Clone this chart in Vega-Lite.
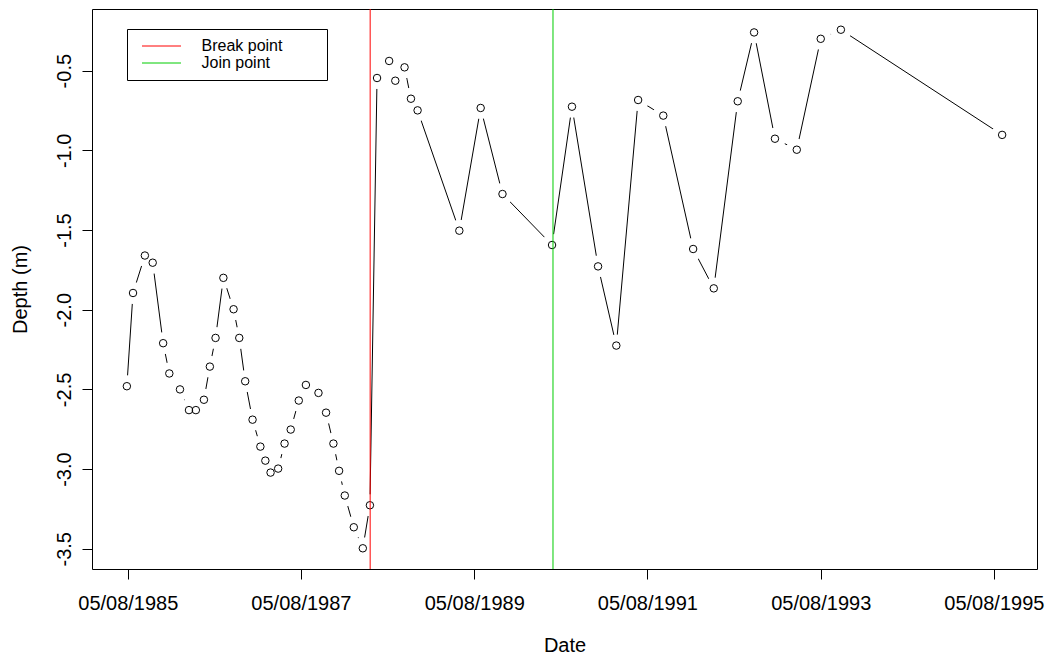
{
  "$schema": "https://vega.github.io/schema/vega-lite/v6.json",
  "width": 945,
  "height": 560,
  "autosize": {"type": "none"},
  "padding": {"left": 92, "top": 9, "right": 15, "bottom": 92},
  "background": "white",
  "datasets": {
    "series": [
      {"date": "1985-08-01", "depth": -2.48},
      {"date": "1985-08-27", "depth": -1.895},
      {"date": "1985-10-16", "depth": -1.66},
      {"date": "1985-11-18", "depth": -1.705},
      {"date": "1986-01-01", "depth": -2.21},
      {"date": "1986-01-27", "depth": -2.40},
      {"date": "1986-03-13", "depth": -2.50},
      {"date": "1986-04-20", "depth": -2.63},
      {"date": "1986-05-19", "depth": -2.63},
      {"date": "1986-06-22", "depth": -2.565},
      {"date": "1986-07-17", "depth": -2.357},
      {"date": "1986-08-10", "depth": -2.177},
      {"date": "1986-09-12", "depth": -1.80},
      {"date": "1986-10-25", "depth": -1.997},
      {"date": "1986-11-18", "depth": -2.177},
      {"date": "1986-12-13", "depth": -2.449},
      {"date": "1987-01-13", "depth": -2.69},
      {"date": "1987-02-15", "depth": -2.859},
      {"date": "1987-03-08", "depth": -2.947},
      {"date": "1987-03-30", "depth": -3.022},
      {"date": "1987-05-01", "depth": -2.997},
      {"date": "1987-05-28", "depth": -2.84},
      {"date": "1987-06-23", "depth": -2.752},
      {"date": "1987-07-27", "depth": -2.570},
      {"date": "1987-08-26", "depth": -2.472},
      {"date": "1987-10-18", "depth": -2.522},
      {"date": "1987-11-19", "depth": -2.646},
      {"date": "1987-12-20", "depth": -2.84},
      {"date": "1988-01-13", "depth": -3.011},
      {"date": "1988-02-06", "depth": -3.166},
      {"date": "1988-03-15", "depth": -3.365},
      {"date": "1988-04-22", "depth": -3.497},
      {"date": "1988-05-22", "depth": -3.227},
      {"date": "1988-06-21", "depth": -0.546},
      {"date": "1988-08-11", "depth": -0.439},
      {"date": "1988-09-06", "depth": -0.563},
      {"date": "1988-10-15", "depth": -0.479},
      {"date": "1988-11-11", "depth": -0.676},
      {"date": "1988-12-09", "depth": -0.749},
      {"date": "1989-06-03", "depth": -1.504},
      {"date": "1989-09-01", "depth": -0.734},
      {"date": "1989-12-02", "depth": -1.274},
      {"date": "1990-06-29", "depth": -1.594},
      {"date": "1990-09-21", "depth": -0.726},
      {"date": "1991-01-09", "depth": -1.728},
      {"date": "1991-03-27", "depth": -2.225},
      {"date": "1991-06-27", "depth": -0.684},
      {"date": "1991-10-11", "depth": -0.782},
      {"date": "1992-02-14", "depth": -1.619},
      {"date": "1992-05-11", "depth": -1.866},
      {"date": "1992-08-20", "depth": -0.692},
      {"date": "1992-10-28", "depth": -0.26},
      {"date": "1993-01-24", "depth": -0.927},
      {"date": "1993-04-26", "depth": -0.996},
      {"date": "1993-08-05", "depth": -0.30},
      {"date": "1993-10-29", "depth": -0.243},
      {"date": "1995-09-09", "depth": -0.903}
    ],
    "events": [
      {"date": "1988-05-23", "event": "Break point"},
      {"date": "1990-07-03", "event": "Join point"}
    ]
  },
  "layer": [
    {
      "data": {"name": "series"},
      "mark": {"type": "line", "color": "black", "strokeWidth": 1},
      "encoding": {
        "x": {
          "field": "date",
          "type": "temporal",
          "title": "Date",
          "scale": {
            "type": "utc",
            "nice": false,
            "domain": [
              {"year": 1985, "month": 3, "date": 7, "utc": true},
              {"year": 1996, "month": 2, "date": 3, "utc": true}
            ]
          },
          "axis": {
            "values": [
              {"year": 1985, "month": 8, "date": 5, "utc": true},
              {"year": 1987, "month": 8, "date": 5, "utc": true},
              {"year": 1989, "month": 8, "date": 5, "utc": true},
              {"year": 1991, "month": 8, "date": 5, "utc": true},
              {"year": 1993, "month": 8, "date": 5, "utc": true},
              {"year": 1995, "month": 8, "date": 5, "utc": true}
            ],
            "labelExpr": "utcFormat(datum.value, '%d/%m/%Y')",
            "labelPadding": 14,
            "labelFlush": false,
            "labelOverlap": false,
            "labelBound": false,
            "titlePadding": 22
          }
        },
        "y": {
          "field": "depth",
          "type": "quantitative",
          "title": "Depth (m)",
          "scale": {"domain": [-3.627, -0.113], "nice": false, "zero": false},
          "axis": {
            "values": [-3.5, -3, -2.5, -2, -1.5, -1, -0.5],
            "format": ".1f",
            "labelExpr": "replace(datum.label, '\u2212', '-')",
            "labelAngle": 270,
            "labelAlign": "center",
            "labelBaseline": "alphabetic",
            "labelPadding": 12,
            "labelOverlap": false,
            "labelFlush": false,
            "titlePadding": 24
          }
        }
      }
    },
    {
      "data": {"name": "series"},
      "mark": {"type": "point", "shape": "circle", "filled": true, "fill": "white", "strokeWidth": 0, "size": 480, "opacity": 1},
      "encoding": {
        "x": {"field": "date", "type": "temporal", "scale": {"type": "utc"}},
        "y": {"field": "depth", "type": "quantitative"}
      }
    },
    {
      "data": {"name": "series"},
      "mark": {"type": "point", "shape": "circle", "filled": false, "stroke": "black", "strokeWidth": 1, "size": 56, "opacity": 1},
      "encoding": {
        "x": {"field": "date", "type": "temporal", "scale": {"type": "utc"}},
        "y": {"field": "depth", "type": "quantitative"}
      }
    },
    {
      "data": {"name": "events"},
      "mark": {"type": "rule", "strokeWidth": 1},
      "encoding": {
        "x": {"field": "date", "type": "temporal", "scale": {"type": "utc"}},
        "color": {
          "field": "event",
          "type": "nominal",
          "scale": {"domain": ["Break point", "Join point"], "range": ["#FF0000", "#00CD00"]},
          "legend": {
            "title": null,
            "orient": "none",
            "legendX": 35,
            "legendY": 20,
            "direction": "vertical",
            "symbolType": "M-4,0H4",
            "symbolSize": 95,
            "symbolStrokeWidth": 1,
            "symbolOffset": 17.5,
            "labelOffset": 32,
            "labelFont": "Liberation Sans",
            "labelFontSize": 16,
            "labelColor": "black",
            "padding": 9,
            "rowPadding": 1,
            "strokeColor": "black",
            "fillColor": "white",
            "labelExpr": "datum.label + '        \u200b'"
          }
        }
      }
    }
  ],
  "config": {
    "view": {"stroke": "black", "strokeWidth": 1},
    "axis": {
      "labelFont": "Liberation Sans",
      "labelFontSize": 20,
      "labelColor": "black",
      "titleFont": "Liberation Sans",
      "titleFontSize": 20,
      "titleFontWeight": "normal",
      "titleColor": "black",
      "tickColor": "black",
      "tickSize": 10,
      "tickWidth": 1,
      "domain": false,
      "grid": false
    }
  }
}
